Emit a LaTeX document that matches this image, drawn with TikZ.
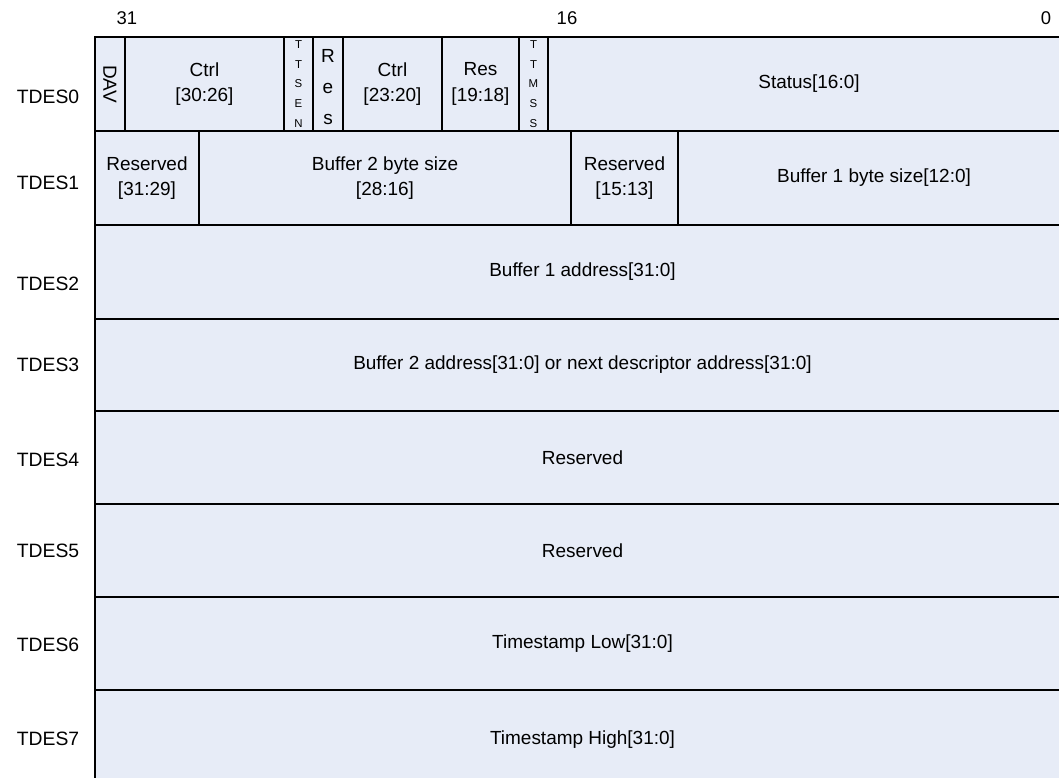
\documentclass[tikz,border=0pt]{standalone}
\usepackage{fontspec}
\setmainfont{Liberation Sans}

\definecolor{descfill}{RGB}{231,236,247}

% name, x_left, x_right, y_top, y_bottom, text
\newcommand{\descfield}[6]{
    \draw[cell] (#2,#4) rectangle (#3,#5);
    \node[fieldtext] (#1) at ({(#2+#3)/2}, {(#4+#5)/2}) {#6};
}
% name, x_left, x_right, y_top, y_bottom
\newcommand{\descbox}[5]{
    \draw[cell] (#2,#4) rectangle (#3,#5);
    \coordinate (#1) at ({(#2+#3)/2}, {(#4+#5)/2});
}

\begin{document}
\begin{tikzpicture}[x=0.02cm, y=-0.02cm,
    cell/.style={draw=black, fill=descfill, line width=1pt},
    fieldtext/.style={align=center, inner sep=0pt, font=\fontsize{10.8}{14.5}\selectfont},
    tinytext/.style={align=center, inner sep=0pt, font=\fontsize{6.5}{11.2}\selectfont},
    rowlabel/.style={inner sep=0pt, font=\fontsize{11}{13}\selectfont},
    bitnum/.style={inner sep=0pt, font=\fontsize{10.5}{13}\selectfont}]

  \useasboundingbox (0,0) rectangle (1059,778);
  \clip (0,0) rectangle (1059,778);

  % bit positions
  \node[bitnum] (b31) at (127,18) {31};
  \node[bitnum] (b16) at (567,18) {16};
  \node[bitnum] (b0) at (1046,18) {0};

  % TDES0
  \descbox{dav}{95}{125}{37}{131}
  \node[fieldtext, rotate=-90] (davtext) at (dav) {DAV};
  \descfield{ctrlhi}{125}{284}{37}{131}{Ctrl\\ {[30:26]}}
  \descbox{ttsen}{284}{313}{37}{131}
  \node[tinytext] (ttsentext) at (ttsen) {T\\T\\S\\E\\N};
  \descbox{resa}{313}{343}{37}{131}
  \node[fieldtext, font=\fontsize{10.8}{17.6}\selectfont] (resatext) at ([yshift=-0.06cm]resa) {R\\e\\s};
  \descfield{ctrllo}{343}{442}{37}{131}{Ctrl\\ {[23:20]}}
  \descfield{resb}{442}{519}{37}{131}{Res\\ {[19:18]}}
  \descbox{ttmss}{519}{548}{37}{131}
  \node[tinytext] (ttmsstext) at (ttmss) {T\\T\\M\\S\\S};
  \descfield{status}{548}{1070}{37}{131}{Status[16:0]}

  % TDES1
  \descfield{rsvhi}{95}{199}{131}{225}{Reserved\\ {[31:29]}}
  \descfield{buftwosize}{199}{571}{131}{225}{Buffer 2 byte size\\ {[28:16]}}
  \descfield{rsvlo}{571}{678}{131}{225}{Reserved\\ {[15:13]}}
  \descfield{bufonesize}{678}{1070}{131}{225}{Buffer 1 byte size[12:0]}

  % TDES2 - TDES7
  \descfield{bufoneaddr}{95}{1070}{225}{319}{Buffer 1 address[31:0]}
  \descfield{buftwoaddr}{95}{1070}{319}{411}{Buffer 2 address[31:0] or next descriptor address[31:0]}
  \descfield{rsvfour}{95}{1070}{411}{504}{Reserved}
  \descfield{rsvfive}{95}{1070}{504}{597}{Reserved}
  \descfield{tslow}{95}{1070}{597}{690}{Timestamp Low[31:0]}
  \descfield{tshigh}{95}{1070}{690}{790}{Timestamp High[31:0]}

  % row names
  \foreach \i/\y in {0/97, 1/183, 2/284, 3/365, 4/460, 5/551, 6/645, 7/739}
    \node[rowlabel] (tdes\i) at (48,\y) {TDES\i};

\end{tikzpicture}
\end{document}
